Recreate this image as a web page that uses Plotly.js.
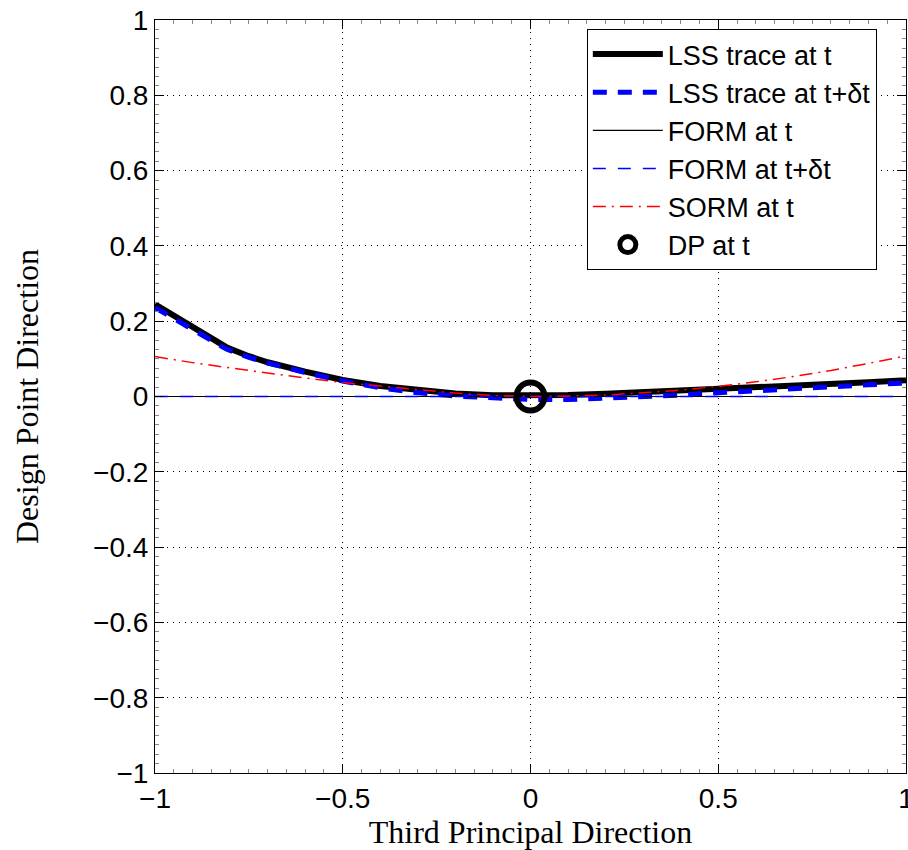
<!DOCTYPE html>
<html>
<head>
<meta charset="utf-8">
<script src="https://cdn.plot.ly/plotly-3.0.1.min.js"></script>
<style>html,body{margin:0;padding:0;background:#fff;}#chart{width:908px;height:850px;}</style>
</head>
<body>
<div id="chart"></div>
<script>
// LSS trace at t
var lssX = [-1, -0.9, -0.81, -0.75, -0.7, -0.6, -0.5, -0.4, -0.3, -0.2, -0.1, 0, 0.1, 0.2, 0.3, 0.4, 0.5, 0.6, 0.7, 0.8, 0.9, 1];
var lssT = [0.245, 0.186, 0.131, 0.107, 0.091, 0.066, 0.044, 0.028, 0.016, 0.008, 0.003, 0.002, 0.004, 0.007, 0.011, 0.015, 0.019, 0.024, 0.029, 0.034, 0.038, 0.043];
// LSS trace at t + dt
var lssTdt = [0.236, 0.179, 0.126, 0.104, 0.089, 0.064, 0.041, 0.023, 0.010, 0.001, -0.005, -0.008, -0.008, -0.005, -0.001, 0.004, 0.010, 0.016, 0.021, 0.026, 0.031, 0.036];
// FORM approximations (flat)
var formX = [-1, 1];
var formT = [0, 0];
var formTdt = [0, 0];
// SORM at t
var sormX = [-1, -0.9, -0.8, -0.7, -0.6, -0.5, -0.4, -0.3, -0.2, -0.1, 0, 0.1, 0.2, 0.3, 0.4, 0.5, 0.6, 0.7, 0.8, 0.9, 1];
var sormT = [0.106, 0.090, 0.076, 0.062, 0.049, 0.037, 0.027, 0.017, 0.009, 0.003, 0, 0.001, 0.004, 0.010, 0.017, 0.027, 0.039, 0.053, 0.069, 0.088, 0.108];
// Design point
var dpX = [0];
var dpY = [0];

var names = ['LSS trace at t', 'LSS trace at t+\u03b4t', 'FORM at t', 'FORM at t+\u03b4t', 'SORM at t', 'DP at t'];

var traces = [
  {x: lssX, y: lssT, name: names[0], mode: 'lines',
   line: {color: '#000000', width: 6}},
  {x: lssX, y: lssTdt, name: names[1], mode: 'lines',
   line: {color: '#0000ff', width: 5, dash: '14px,11px'}},
  {x: formX, y: formT, name: names[2], mode: 'lines',
   line: {color: '#000000', width: 1.2}},
  {x: formX, y: formTdt, name: names[3], mode: 'lines',
   line: {color: '#0000ff', width: 1.5, dash: '13px,12px'}},
  {x: sormX, y: sormT, name: names[4], mode: 'lines',
   line: {color: '#ff0000', width: 1.5, dash: '13px,6px,2px,6px'}},
  {x: dpX, y: dpY, name: names[5], mode: 'markers',
   marker: {symbol: 'circle-open', size: 28, color: '#000000', line: {color: '#000000', width: 6}}}
];

var tickFont = {family: 'Liberation Sans, Arial, sans-serif', size: 28, color: '#000'};
var titleFont = {family: 'Liberation Serif, Times New Roman, serif', size: 32, color: '#000'};

var layout = {
  width: 908, height: 850,
  margin: {l: 155, r: 2, t: 20, b: 77},
  paper_bgcolor: '#fff', plot_bgcolor: '#fff',
  showlegend: true,
  legend: {
    x: 0.575, y: 0.988, xanchor: 'left', yanchor: 'top',
    bgcolor: '#fff', bordercolor: '#000', borderwidth: 1,
    font: {family: 'Liberation Sans, Arial, sans-serif', size: 27, color: '#000'},
    traceorder: 'normal', itemwidth: 70
  },
  xaxis: {
    range: [-1, 1], dtick: 0.5, tick0: -1,
    showgrid: true, gridcolor: '#000', griddash: '1px,5px', gridwidth: 1,
    zeroline: false, showline: true, linecolor: '#000', linewidth: 1, mirror: 'allticks',
    ticks: 'inside', ticklen: 9, tickcolor: '#000',
    minor: {ticks: 'inside', dtick: 0.05, ticklen: 4, tickcolor: '#888', showgrid: false},
    tickfont: tickFont, ticklabeloverflow: 'allow', automargin: false,
    title: {text: 'Third Principal Direction', font: titleFont, standoff: 0}
  },
  yaxis: {
    range: [-1, 1], dtick: 0.2, tick0: -1,
    showgrid: true, gridcolor: '#000', griddash: '1px,5px', gridwidth: 1,
    zeroline: false, showline: true, linecolor: '#000', linewidth: 1, mirror: 'allticks',
    ticks: 'inside', ticklen: 9, tickcolor: '#000',
    minor: {ticks: 'inside', dtick: 0.025, ticklen: 4, tickcolor: '#888', showgrid: false},
    tickfont: tickFont, ticklabeloverflow: 'allow', automargin: false,
    title: {text: 'Design Point Direction', font: titleFont, standoff: 44}
  }
};

Plotly.newPlot('chart', traces, layout, {displayModeBar: false, staticPlot: true});
</script>
</body>
</html>
